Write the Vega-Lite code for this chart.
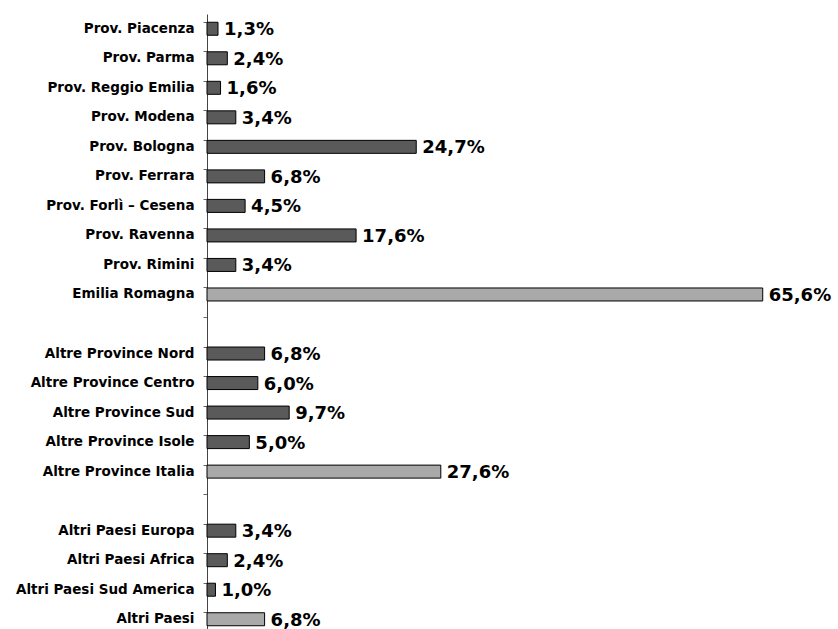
{
  "$schema": "https://vega.github.io/schema/vega-lite/v6.json",
  "width": 593,
  "height": 620,
  "autosize": "none",
  "padding": {"left": 207, "top": 14, "right": 38, "bottom": 0},
  "background": "white",
  "config": {"view": {"stroke": null}, "font": "DejaVu Sans"},
  "data": {"values": [
    {"area": "Prov. Piacenza", "pct": 1.3, "label": "1,3%", "tipo": "dettaglio"},
    {"area": "Prov. Parma", "pct": 2.4, "label": "2,4%", "tipo": "dettaglio"},
    {"area": "Prov. Reggio Emilia", "pct": 1.6, "label": "1,6%", "tipo": "dettaglio"},
    {"area": "Prov. Modena", "pct": 3.4, "label": "3,4%", "tipo": "dettaglio"},
    {"area": "Prov. Bologna", "pct": 24.7, "label": "24,7%", "tipo": "dettaglio"},
    {"area": "Prov. Ferrara", "pct": 6.8, "label": "6,8%", "tipo": "dettaglio"},
    {"area": "Prov. Forlì – Cesena", "pct": 4.5, "label": "4,5%", "tipo": "dettaglio"},
    {"area": "Prov. Ravenna", "pct": 17.6, "label": "17,6%", "tipo": "dettaglio"},
    {"area": "Prov. Rimini", "pct": 3.4, "label": "3,4%", "tipo": "dettaglio"},
    {"area": "Emilia Romagna", "pct": 65.6, "label": "65,6%", "tipo": "totale"},
    {"area": "Altre Province Nord", "pct": 6.8, "label": "6,8%", "tipo": "dettaglio"},
    {"area": "Altre Province Centro", "pct": 6.0, "label": "6,0%", "tipo": "dettaglio"},
    {"area": "Altre Province Sud", "pct": 9.7, "label": "9,7%", "tipo": "dettaglio"},
    {"area": "Altre Province Isole", "pct": 5.0, "label": "5,0%", "tipo": "dettaglio"},
    {"area": "Altre Province Italia", "pct": 27.6, "label": "27,6%", "tipo": "totale"},
    {"area": "Altri Paesi Europa", "pct": 3.4, "label": "3,4%", "tipo": "dettaglio"},
    {"area": "Altri Paesi Africa", "pct": 2.4, "label": "2,4%", "tipo": "dettaglio"},
    {"area": "Altri Paesi Sud America", "pct": 1.0, "label": "1,0%", "tipo": "dettaglio"},
    {"area": "Altri Paesi", "pct": 6.8, "label": "6,8%", "tipo": "totale"}
  ]},
  "encoding": {
    "y": {
      "field": "area",
      "type": "nominal",
      "scale": {
        "domain": ["Prov. Piacenza", "Prov. Parma", "Prov. Reggio Emilia", "Prov. Modena", "Prov. Bologna", "Prov. Ferrara", "Prov. Forlì – Cesena", "Prov. Ravenna", "Prov. Rimini", "Emilia Romagna", "gap1", "Altre Province Nord", "Altre Province Centro", "Altre Province Sud", "Altre Province Isole", "Altre Province Italia", "gap2", "Altri Paesi Europa", "Altri Paesi Africa", "Altri Paesi Sud America", "Altri Paesi"],
        "paddingInner": 0.56,
        "paddingOuter": 0.28
      },
      "axis": {
        "title": null,
        "labelExpr": "indexof(datum.value, 'gap') == 0 ? '' : datum.value",
        "labelFont": "DejaVu Sans",
        "labelFontWeight": "bold",
        "labelFontSize": 13.5,
        "labelColor": "black",
        "labelPadding": 9,
        "labelLimit": 260,
        "tickSize": 4,
        "tickColor": "#666",
        "bandPosition": 0,
        "domainColor": "#444",
        "domainWidth": 1
      }
    },
    "x": {
      "field": "pct",
      "type": "quantitative",
      "scale": {"domain": [0, 70], "nice": false},
      "axis": null
    }
  },
  "layer": [
    {
      "mark": {"type": "bar", "stroke": "black", "strokeWidth": 1, "height": 13},
      "encoding": {
        "color": {
          "field": "tipo",
          "type": "nominal",
          "scale": {"domain": ["dettaglio", "totale"], "range": ["#5a5a5a", "#a9a9a9"]},
          "legend": null
        }
      }
    },
    {
      "mark": {"type": "text", "align": "left", "baseline": "middle", "dx": 6, "dy": 1.5, "font": "DejaVu Sans", "fontWeight": "bold", "fontSize": 18, "color": "black"},
      "encoding": {"text": {"field": "label"}}
    }
  ]
}
